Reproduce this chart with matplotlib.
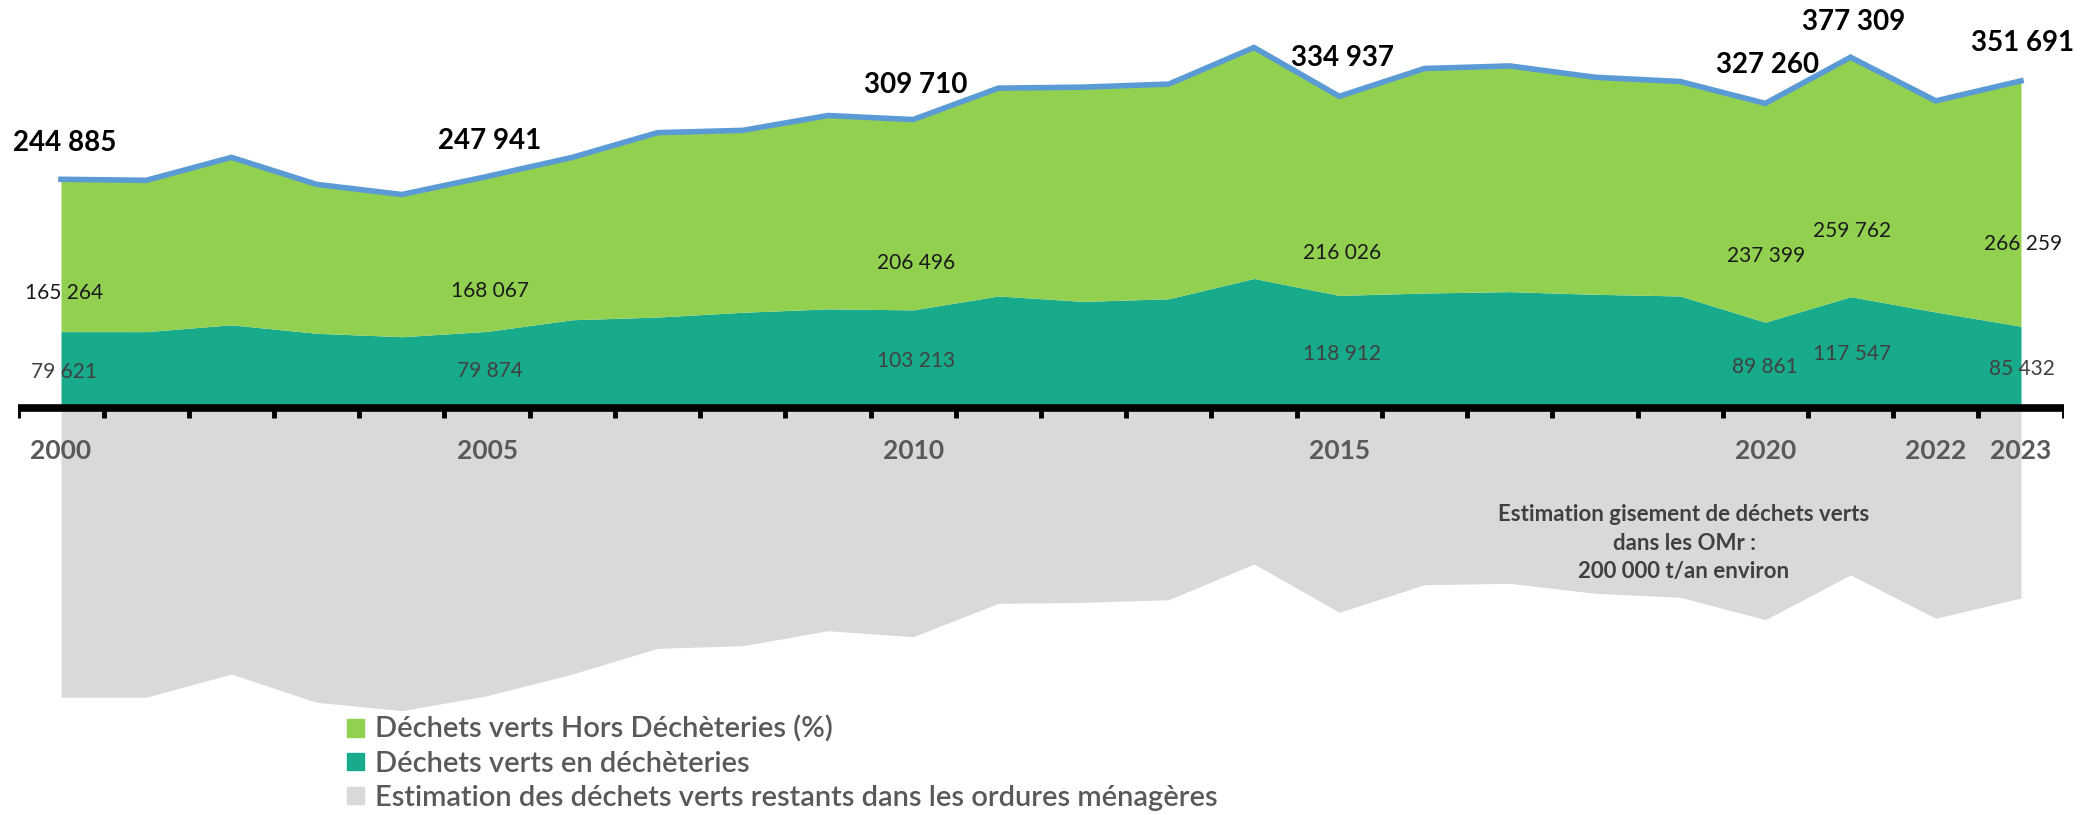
import numpy as np
import matplotlib
matplotlib.use("Agg")
import matplotlib.pyplot as plt
from matplotlib.patches import Patch

plt.rcParams['font.family'] = ['Lato', 'DejaVu Sans']

# data (tonnes / year)
years = list(range(2000, 2024))
en_decheteries = [79621, 79600, 87000, 77800, 74100, 79874, 92500, 95400, 100600, 104300,
                  103213, 118300, 112400, 115300, 137300, 118912, 121500, 123000, 120100, 118300,
                  89861, 117547, 100900, 85432]
hors_decheteries = [165264, 164200, 181700, 161600, 154300, 168067, 176200, 200100, 197400, 209800,
                    206496, 225500, 232500, 232900, 250600, 216026, 243600, 244900, 235500, 232700,
                    237399, 259762, 229100, 266259]
total_dv = [244885, 243800, 268700, 239400, 228400, 247941, 268700, 295500, 298000, 314100,
            309710, 343800, 344900, 348200, 387900, 334937, 365100, 367900, 355600, 351000,
            327260, 377309, 330000, 351691]
# grey band drawn below the axis
restants_omr = [-317100, -317100, -291900, -322600, -331700, -315400, -291900, -264000, -261200, -244900,
                -251400, -215200, -214100, -211200, -172500, -224900, -195000, -193500, -204300, -208600,
                -232900, -184400, -231400, -209400]

labelled_years = [2000, 2005, 2010, 2015, 2020, 2021, 2023]
tick_years = [2000, 2005, 2010, 2015, 2020, 2022, 2023]

# label offsets in pixels (placement only)
total_off = [(4, 36), (3, 35), (3, 35), (3, 38), (2, 38), (3, 35), (2, 38)]
hors_off = [(3, 39), (3, 40), (3, 47), (3, 42), (1, 66), (2, 66), (2, 82)]
en_off = [(3, 33), (3, 34), (3, 44), (3, 51), (0, 38), (2, 51), (1, 36)]

GREEN = '#92D050'
TEAL = '#17AB8B'
GREY = '#D9D9D9'
BLUE = '#5B9BD5'

x = np.arange(len(years))
en = np.array(en_decheteries)
hors = np.array(hors_decheteries)

W, H = 2098, 815
PX = 1085  # tonnes per pixel
fig = plt.figure(figsize=(W / 100, H / 100), dpi=100)
ax = fig.add_axes([18.4 / W, 0, 2045.2 / W, 1])
ax.set_xlim(-0.5, len(years) - 0.5)
ax.set_ylim(-410 * PX, 405 * PX)
ax.axis('off')

ax.fill_between(x, 0, restants_omr, color=GREY, lw=0, zorder=1)
ax.fill_between(x, 0, en, color=TEAL, lw=0, zorder=2)
ax.fill_between(x, en, en + hors, color=GREEN, lw=0, zorder=2)
ax.plot(x, total_dv, color=BLUE, lw=4, solid_joinstyle='miter', zorder=3)

# axis line with tick marks between categories
ax.plot([-0.5, len(years) - 0.5], [-3 * PX, -3 * PX], color='black', lw=5.5, solid_capstyle='butt', zorder=5)
for t in np.arange(-0.5, len(years), 1.0):
    ax.plot([t, t], [-3 * PX, -13 * PX], color='black', lw=3.5, solid_capstyle='butt', zorder=5)

for yr in tick_years:
    ax.text(years.index(yr), -46 * PX, str(yr), ha='center', va='center',
            fontsize=19, fontweight='bold', color='#595959', zorder=6)

def fmt(v):
    return f"{v:,}".replace(",", " ")

for k, yr in enumerate(labelled_years):
    i = years.index(yr)
    ax.annotate(fmt(total_dv[i]), (i, total_dv[i]), xytext=total_off[k], textcoords='offset pixels',
                ha='center', va='center', fontsize=20, fontweight='bold', color='black', zorder=7)
    ax.annotate(fmt(hors_decheteries[i]), (i, en[i]), xytext=hors_off[k], textcoords='offset pixels',
                ha='center', va='center', fontsize=15, color='#1a1a1a', zorder=7)
    ax.annotate(fmt(en_decheteries[i]), (i, 0), xytext=en_off[k], textcoords='offset pixels',
                ha='center', va='center', fontsize=15, color='#404040', zorder=7)

ax.text(1684 / W, 1 - 543 / H, "Estimation gisement de déchets verts\ndans les OMr :\n200 000 t/an environ",
        transform=fig.transFigure, ha='center', va='center', fontsize=16, fontweight='bold',
        color='#404040', linespacing=1.43, zorder=7)

handles = [Patch(color=GREEN, label='Déchets verts Hors Déchèteries (%)'),
           Patch(color=TEAL, label='Déchets verts en déchèteries'),
           Patch(color=GREY, label='Estimation des déchets verts restants dans les ordures ménagères')]
fig.legend(handles=handles, loc='upper left', bbox_to_anchor=(347 / W, 1 - 716 / H), frameon=False,
           prop={'size': 21, 'weight': 'semibold'}, labelcolor='#595959',
           handlelength=0.58, handleheight=0.55, handletextpad=0.38,
           labelspacing=0.27, borderpad=0, borderaxespad=0)

fig.savefig('out.png', dpi=100)
